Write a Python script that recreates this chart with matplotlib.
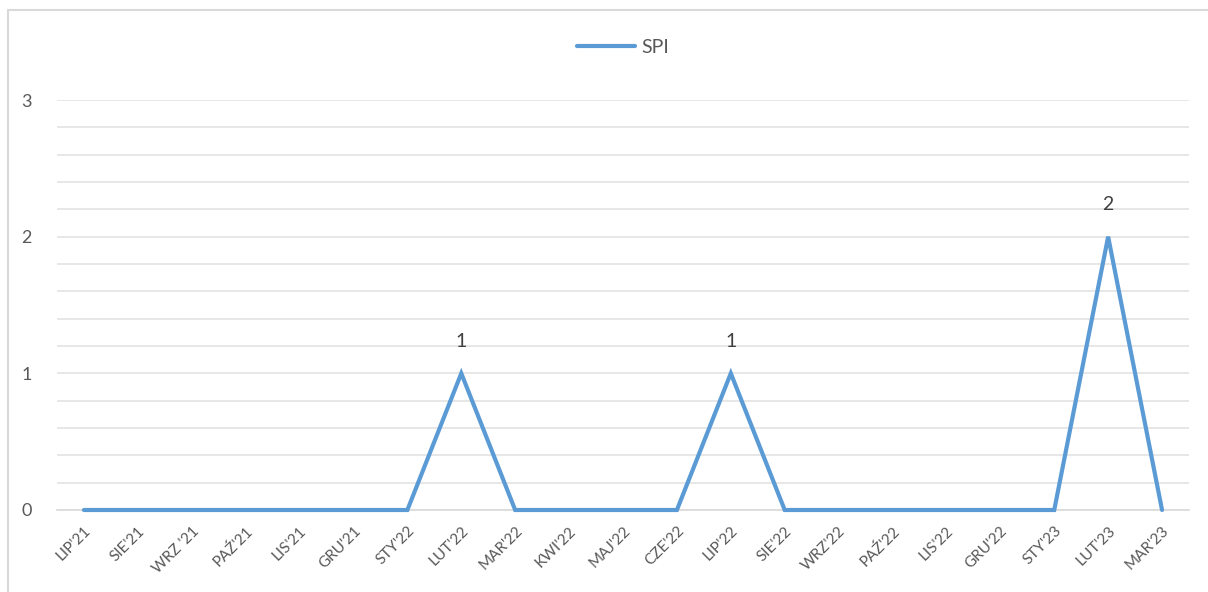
import matplotlib
matplotlib.use("Agg")
import matplotlib.pyplot as plt
from matplotlib.patches import Rectangle

plt.rcParams['font.family'] = ['Lato', 'DejaVu Sans']

months = ["LIP'21", "SIE'21", "WRZ '21", "PAŹ'21", "LIS'21", "GRU'21", "STY'22",
          "LUT'22", "MAR'22", "KWI'22", "MAJ'22", "CZE'22", "LIP'22", "SIE'22",
          "WRZ'22", "PAŹ'22", "LIS'22", "GRU'22", "STY'23", "LUT'23", "MAR'23"]
spi = [0, 0, 0, 0, 0, 0, 0, 1, 0, 0, 0, 0, 1, 0, 0, 0, 0, 0, 0, 2, 0]

txt = '#595959'
blue = '#5B9BD5'

fig = plt.figure(figsize=(12.08, 5.92), dpi=100)
ax = fig.add_axes([57/1208, 1-510/592, (1189-57)/1208, 410/592])

# chart border
fig.add_artist(Rectangle((8/1208, -0.1), 1.2, 1-10/592+0.1, transform=fig.transFigure,
                         fill=False, edgecolor='#d9d9d9', linewidth=1.5))

x = list(range(len(months)))
ax.plot(x, spi, color=blue, linewidth=3.0, solid_capstyle='round',
        solid_joinstyle='miter', label='SPI', zorder=3, clip_on=False)

for xi, v in zip(x, spi):
    if v > 0:
        ax.text(xi, v + 0.17, str(v), ha='center', va='bottom', fontsize=14, color='#404040')

ax.set_xlim(-0.5, len(months) - 0.5)
ax.set_ylim(0, 3)
ax.set_yticks([0, 1, 2, 3])
ax.set_yticks([i * 0.2 for i in range(16)], minor=True)
ax.grid(True, which='both', axis='y', color='#e3e3e3', linewidth=1.2)
ax.set_axisbelow(True)
for s in ['top', 'right', 'left']:
    ax.spines[s].set_visible(False)
ax.spines['bottom'].set_color('#d9d9d9')
ax.spines['bottom'].set_linewidth(1.2)

ax.set_xticks(x)
ax.set_xticklabels(months, rotation=45, ha='right', rotation_mode='anchor',
                   fontsize=11, color=txt)
ax.tick_params(axis='x', length=0, pad=10)
ax.tick_params(axis='y', which='both', length=0, pad=18, labelsize=13, labelcolor=txt)

leg = ax.legend(loc='lower center', bbox_to_anchor=(0.5, 1.065), frameon=False,
                fontsize=14, handlelength=3.0, handletextpad=0.3)
for t in leg.get_texts():
    t.set_color(txt)

fig.savefig('out.png', dpi=100)
